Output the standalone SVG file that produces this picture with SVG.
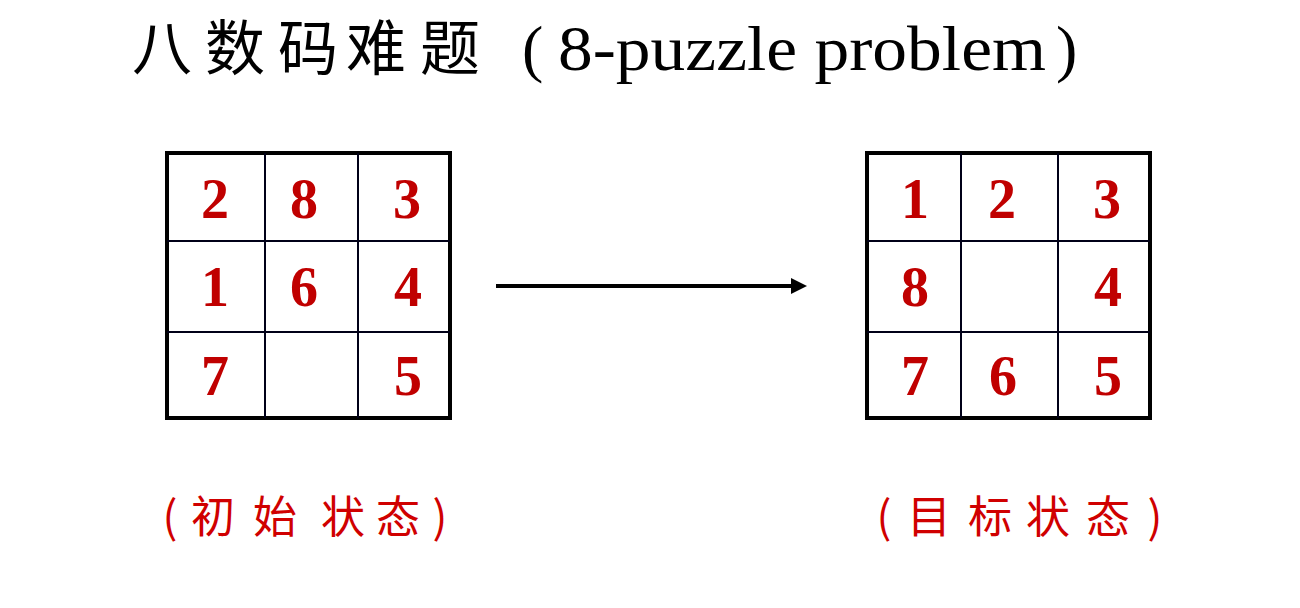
<svg xmlns="http://www.w3.org/2000/svg" width="1300" height="608" viewBox="0 0 1300 608">
<style>
.cjk{font-family:"Noto Sans CJK SC","Noto Sans",sans-serif;}
.title{font-size:60px;fill:#000;text-anchor:middle;}
.en{font-family:"Liberation Serif","Times New Roman",serif;font-size:64px;fill:#000;}
.num{font-family:"Liberation Serif","Times New Roman",serif;font-weight:bold;font-size:56px;fill:#c00000;text-anchor:middle;}
.lab{font-size:44px;fill:#d00000;text-anchor:middle;}
.outer{fill:#fff;stroke:#000;stroke-width:4;}
.inner{stroke:#000018;stroke-width:2;}
</style>
<defs>
<marker id="ah" markerWidth="16" markerHeight="16" refX="0" refY="8" orient="auto" markerUnits="userSpaceOnUse" viewBox="0 0 16 16">
<path d="M0,0 L16,8 L0,16 Z" fill="#000"/>
</marker>
</defs>
<rect width="1300" height="608" fill="#fff"/>
<g id="title">
<text class="cjk title" y="70"><tspan x="162">八</tspan><tspan x="235">数</tspan><tspan x="308">码</tspan><tspan x="376">难</tspan><tspan x="450">题</tspan></text>
<text class="en" x="522" y="70">(</text>
<text class="en" x="558" y="70" textLength="488" lengthAdjust="spacingAndGlyphs">8-puzzle problem</text>
<text class="en" x="1056" y="70">)</text>
</g>
<g id="initial">
<rect class="outer" x="167" y="153" width="283" height="265"/>
<line class="inner" x1="265" y1="153" x2="265" y2="418"/>
<line class="inner" x1="358" y1="153" x2="358" y2="418"/>
<line class="inner" x1="167" y1="241" x2="450" y2="241"/>
<line class="inner" x1="167" y1="332" x2="450" y2="332"/>
<text class="num" y="218"><tspan x="215">2</tspan><tspan x="304">8</tspan><tspan x="407">3</tspan></text>
<text class="num" y="306"><tspan x="215">1</tspan><tspan x="304">6</tspan><tspan x="408">4</tspan></text>
<text class="num" y="395"><tspan x="215">7</tspan><tspan x="408">5</tspan></text>
</g>
<g id="goal">
<rect class="outer" x="867" y="153" width="283" height="265"/>
<line class="inner" x1="961" y1="153" x2="961" y2="418"/>
<line class="inner" x1="1058" y1="153" x2="1058" y2="418"/>
<line class="inner" x1="867" y1="241" x2="1150" y2="241"/>
<line class="inner" x1="867" y1="332" x2="1150" y2="332"/>
<text class="num" y="218"><tspan x="915">1</tspan><tspan x="1002">2</tspan><tspan x="1107">3</tspan></text>
<text class="num" y="306"><tspan x="915">8</tspan><tspan x="1108">4</tspan></text>
<text class="num" y="395"><tspan x="915">7</tspan><tspan x="1003">6</tspan><tspan x="1108">5</tspan></text>
</g>
<g id="connectors">
<line x1="496" y1="286" x2="791" y2="286" stroke="#000" stroke-width="4" marker-end="url(#ah)"/>
</g>
<g id="label-initial">
<text class="cjk lab" y="533"><tspan x="170">(</tspan><tspan x="213">初</tspan><tspan x="275">始</tspan><tspan x="343">状</tspan><tspan x="398">态</tspan><tspan x="440">)</tspan></text>
</g>
<g id="label-goal">
<text class="cjk lab" y="533"><tspan x="884">(</tspan><tspan x="929">目</tspan><tspan x="990">标</tspan><tspan x="1048">状</tspan><tspan x="1108">态</tspan><tspan x="1155">)</tspan></text>
</g>
</svg>
